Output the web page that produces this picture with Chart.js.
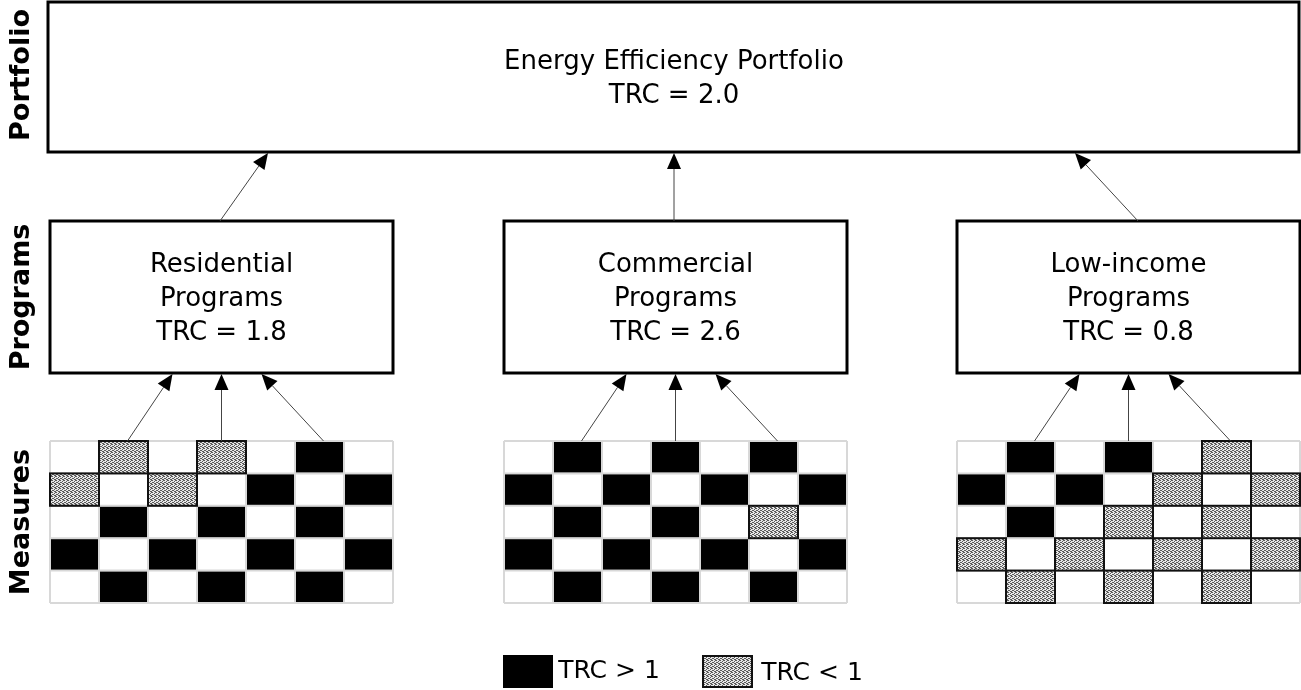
<!DOCTYPE html>
<html>
<head>
<meta charset="utf-8">
<script src="https://cdn.jsdelivr.net/npm/chart.js@4.4.1/dist/chart.umd.min.js"></script>
<style>
  html, body { margin: 0; padding: 0; background: #fff; }
  #wrap { width: 1301px; height: 690px; }
</style>
</head>
<body>
<div id="wrap"><canvas id="diagram" width="1301" height="690"></canvas></div>
<script>
(() => {
    'use strict';

    // chart data
    const levelLabels = ['Portfolio', 'Programs', 'Measures'];
    const portfolioName = ['Energy Efficiency Portfolio'];
    const portfolioTRC = 2.0;
    const programNames = [['Residential', 'Programs'], ['Commercial', 'Programs'], ['Low-income', 'Programs']];
    const programTRC = [1.8, 2.6, 0.8];
    // measures: B = TRC > 1, G = TRC < 1, . = empty cell
    const residentialMeasures = ['.G.G.B.', 'G.G.B.B', '.B.B.B.', 'B.B.B.B', '.B.B.B.'];
    const commercialMeasures = ['.B.B.B.', 'B.B.B.B', '.B.B.G.', 'B.B.B.B', '.B.B.B.'];
    const lowIncomeMeasures = ['.B.B.G.', 'B.B.G.G', '.B.G.G.', 'G.G.G.G', '.G.G.G.'];
    const legendLabels = ['TRC > 1', 'TRC < 1'];

    const measureGrids = [residentialMeasures, commercialMeasures, lowIncomeMeasures];

    // stipple pattern for TRC < 1 cells
    function makeStipple() {
        let c = document.createElement('canvas');
        c.width = 4; c.height = 4;
        let g = c.getContext('2d');
        g.fillStyle = '#e6e6e6';
        g.fillRect(0, 0, 4, 4);
        g.fillStyle = '#5a5a5a';
        [[0, 0], [2, 1], [0, 2], [2, 3], [3, 0], [1, 2], [3, 3]].forEach(p => g.fillRect(p[0], p[1], 1, 1));
        return c;
    }

    const font = '"DejaVu Sans", Verdana, sans-serif';

    const diagramPlugin = {
        id: 'diagram',
        afterDraw(chart) {
            const ctx = chart.ctx;
            const xs = chart.scales.x, ys = chart.scales.y;
            const px = v => xs.getPixelForValue(v);
            const py = v => ys.getPixelForValue(v);
            const stipple = ctx.createPattern(makeStipple(), 'repeat');

            function box(x0, y0, x1, y1) {
                ctx.save();
                ctx.lineWidth = 3;
                ctx.strokeStyle = '#000';
                ctx.strokeRect(px(x0), py(y0), px(x1) - px(x0), py(y1) - py(y0));
                ctx.restore();
            }

            function text(lines, cx, cy, size, gap) {
                ctx.save();
                ctx.fillStyle = '#000';
                ctx.font = size + 'px ' + font;
                ctx.textAlign = 'center';
                ctx.textBaseline = 'middle';
                let top = cy - (lines.length - 1) * gap / 2;
                lines.forEach((t, i) => ctx.fillText(t, px(cx), py(top + i * gap)));
                ctx.restore();
            }

            function arrow(x0, y0, x1, y1) {
                let ax = px(x0), ay = py(y0), bx = px(x1), by = py(y1);
                let ang = Math.atan2(by - ay, bx - ax);
                let len = 16, half = 7;
                ctx.save();
                ctx.strokeStyle = '#444';
                ctx.lineWidth = 1;
                ctx.beginPath();
                ctx.moveTo(ax, ay);
                ctx.lineTo(bx - Math.cos(ang) * len, by - Math.sin(ang) * len);
                ctx.stroke();
                ctx.fillStyle = '#000';
                ctx.beginPath();
                ctx.moveTo(bx, by);
                ctx.lineTo(bx - Math.cos(ang) * len - Math.sin(ang) * half, by - Math.sin(ang) * len + Math.cos(ang) * half);
                ctx.lineTo(bx - Math.cos(ang) * len + Math.sin(ang) * half, by - Math.sin(ang) * len - Math.cos(ang) * half);
                ctx.closePath();
                ctx.fill();
                ctx.restore();
            }

            function cell(kind, x0, y0, w, h) {
                let a = px(x0), b = py(y0), cw = px(x0 + w) - a, ch = py(y0 + h) - b;
                ctx.save();
                if (kind === 'B') {
                    ctx.fillStyle = '#000';
                    ctx.fillRect(a + 1, b + 1, cw - 2, ch - 2);
                } else if (kind === 'G') {
                    ctx.fillStyle = stipple;
                    ctx.fillRect(a, b, cw, ch);
                    ctx.lineWidth = 2;
                    ctx.strokeStyle = '#111';
                    ctx.strokeRect(a, b, cw, ch);
                }
                ctx.restore();
            }

            // level labels (rotated)
            const levelY = [75, 297, 522];
            levelLabels.forEach((t, i) => {
                ctx.save();
                ctx.translate(px(22), py(levelY[i]));
                ctx.rotate(-Math.PI / 2);
                ctx.font = 'bold 27px ' + font;
                ctx.textAlign = 'center';
                ctx.textBaseline = 'middle';
                ctx.fillStyle = '#000';
                ctx.fillText(t, 0, 0);
                ctx.restore();
            });

            // portfolio
            box(48, 2, 1299, 152);
            text([portfolioName[0], 'TRC = ' + portfolioTRC.toFixed(1)], 674, 79, 26, 34);

            // programs + measures
            const gridLeft = [50, 504, 957];
            const cellW = 49, cellH = 32.4, gridTop = 441;
            const boxW = 7 * cellW;
            const topArrows = [[220, 268], [674, 674], [1138, 1075]];

            programNames.forEach((names, i) => {
                let bl = gridLeft[i];
                box(bl, 221, bl + boxW, 373);
                text([names[0], names[1], 'TRC = ' + programTRC[i].toFixed(1)], bl + boxW / 2, 299, 26, 34);
                arrow(topArrows[i][0], 221, topArrows[i][1], 153);

                let gl = gridLeft[i];
                // light grid
                ctx.save();
                ctx.strokeStyle = '#d8d8d8';
                ctx.lineWidth = 2;
                for (let c = 0; c <= 7; c++) {
                    ctx.beginPath();
                    ctx.moveTo(px(gl + c * cellW), py(gridTop));
                    ctx.lineTo(px(gl + c * cellW), py(gridTop + 5 * cellH));
                    ctx.stroke();
                }
                for (let r = 0; r <= 5; r++) {
                    ctx.beginPath();
                    ctx.moveTo(px(gl), py(gridTop + r * cellH));
                    ctx.lineTo(px(gl + 7 * cellW), py(gridTop + r * cellH));
                    ctx.stroke();
                }
                ctx.restore();

                measureGrids[i].forEach((row, r) => {
                    row.split('').forEach((k, c) => cell(k, gl + c * cellW, gridTop + r * cellH, cellW, cellH));
                });

                let cx = bl + boxW / 2;
                arrow(cx - 94, gridTop, cx - 49, 374);
                arrow(cx, gridTop, cx, 374);
                arrow(cx + 102, gridTop, cx + 40, 374);
            });

            // legend
            ctx.save();
            ctx.fillStyle = '#000';
            ctx.fillRect(px(503), py(655), px(553) - px(503), py(688) - py(655));
            ctx.restore();
            text([legendLabels[0]], 609, 671, 25, 0);
            cell('G', 703, 656, 49, 31);
            text([legendLabels[1]], 812, 673, 25, 0);
        }
    };

    new Chart(document.getElementById('diagram').getContext('2d'), {
        type: 'scatter',
        data: { datasets: [{ data: [], pointRadius: 0 }] },
        options: {
            responsive: false,
            animation: false,
            layout: { padding: 0 },
            plugins: { legend: { display: false }, tooltip: { enabled: false } },
            scales: {
                x: { type: 'linear', min: 0, max: 1301, display: false },
                y: { type: 'linear', min: 0, max: 690, reverse: true, display: false }
            }
        },
        plugins: [diagramPlugin]
    });
})();
</script>
</body>
</html>
